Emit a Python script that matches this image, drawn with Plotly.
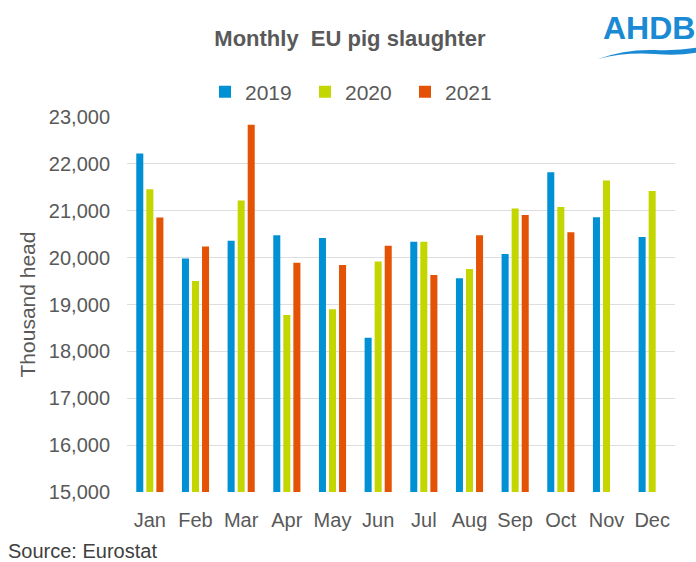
import plotly.graph_objects as go

months = ["Jan", "Feb", "Mar", "Apr", "May", "Jun", "Jul", "Aug", "Sep", "Oct", "Nov", "Dec"]
y2019 = [22220, 19980, 20360, 20480, 20420, 18290, 20340, 19560, 20080, 21820, 20860, 20440]
y2020 = [21460, 19500, 21220, 18775, 18900, 19915, 20340, 19760, 21050, 21080, 21645, 21420]
y2021 = [20855, 20235, 22835, 19890, 19845, 20255, 19630, 20480, 20910, 20540, None, None]
yticks = [15000, 16000, 17000, 18000, 19000, 20000, 21000, 22000, 23000]

FONT = "Liberation Sans, Arial, sans-serif"
GREY = "#595959"

fig = go.Figure()
for name, vals, col in [("2019", y2019, "#0090d4"), ("2020", y2020, "#c4d600"), ("2021", y2021, "#e35205")]:
    fig.add_trace(go.Bar(x=months, y=vals, name=name, marker=dict(color=col, line=dict(width=0))))

W, H = 696, 562
L, R, T, B = 127, 21, 117, 70
pw, ph = W - L - R, H - T - B

def px(x):
    return (x - L) / pw

def py(y):
    return (H - B - y) / ph

fig.update_layout(
    width=W, height=H,
    margin=dict(l=L, r=R, t=T, b=B, autoexpand=False),
    paper_bgcolor="white", plot_bgcolor="white",
    barmode="group", bargap=0.34, bargroupgap=0.3,
    font=dict(family=FONT, color=GREY, size=20),
    title=dict(text="<b>Monthly  EU pig slaughter</b>", x=px(350), xref="paper", xanchor="center",
               y=1 - 38 / H, yanchor="middle", font=dict(size=22, color=GREY)),
    legend=dict(orientation="h", x=px(205), xref="paper", xanchor="left", y=py(92), yanchor="middle",
                font=dict(size=21, color=GREY), entrywidth=55, bgcolor="rgba(0,0,0,0)",
                itemwidth=30, tracegroupgap=0),
    xaxis=dict(showgrid=False, showline=False, ticks="", ticklabelstandoff=14,
               tickfont=dict(size=20, color=GREY)),
    yaxis=dict(range=[15000, 23000], tickvals=yticks, tickformat=",d", showgrid=True,
               gridcolor="#dedede", gridwidth=1, zeroline=False, showline=False, ticks="",
               ticklabelstandoff=16,
               tickfont=dict(size=20, color=GREY),
               title=dict(text="Thousand head", font=dict(size=21, color=GREY), standoff=7)),
)

fig.add_annotation(text="Source: Eurostat", xref="paper", yref="paper", x=px(6), y=py(551),
                   xanchor="left", yanchor="middle", showarrow=False,
                   font=dict(size=20, color="#404040", family=FONT))

fig.add_annotation(text="<b>AHDB</b>", xref="paper", yref="paper", x=px(601), y=py(28),
                   xanchor="left", yanchor="middle", showarrow=False,
                   font=dict(size=32, color="#1a8ad4", family=FONT))

# logo swoosh
x0, x1 = px(598), px(700)
fig.add_shape(type="path", xref="paper", yref="paper",
              path=f"M {x0},{py(59)} Q {px(625)},{py(49)} {px(655)},{py(50)} Q {px(680)},{py(51)} {x1},{py(47)} "
                   f"L {x1},{py(52)} Q {px(680)},{py(56)} {px(655)},{py(54)} Q {px(625)},{py(52)} {x0},{py(59)} Z",
              fillcolor="#1a8ad4", line=dict(width=0))

fig.write_html("out.html", config={"displayModeBar": False},
               post_script="document.body.style.margin='0';document.body.style.overflow='hidden';")
